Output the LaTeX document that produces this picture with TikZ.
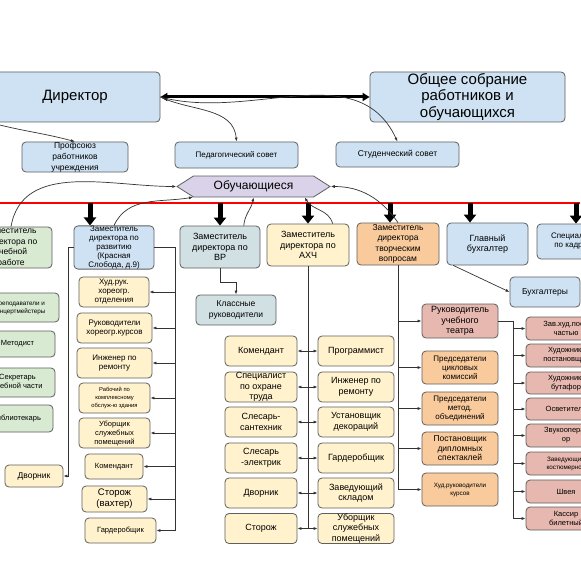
\documentclass[tikz,border=0pt]{standalone}
\usepackage{fontspec}
\setmainfont{Liberation Sans}
\usetikzlibrary{arrows.meta, shapes.symbols, calc}
\definecolor{blueA}{HTML}{CFE2F3}
\definecolor{blueB}{HTML}{D0E0E3}
\definecolor{lilac}{HTML}{D9D2E9}
\definecolor{greenA}{HTML}{D9EAD3}
\definecolor{yellowA}{HTML}{FFF2CC}
\definecolor{orangeA}{HTML}{F9CB9C}
\definecolor{pinkA}{HTML}{E6B8AF}
\definecolor{edgegray}{HTML}{5F5F5F}

\begin{document}
\begin{tikzpicture}[x=1pt, y=1pt,
    box/.style={draw=edgegray, line width=0.8pt, rounded corners=4pt, align=center, inner sep=0pt},
    sz/.style 2 args={minimum width=#1pt, minimum height=#2pt},
    tA/.style={font=\fontsize{15pt}{16.5pt}\selectfont},
    tB/.style={font=\fontsize{12pt}{14pt}\selectfont},
    tC/.style={font=\fontsize{9pt}{10.5pt}\selectfont},
    tD/.style={font=\fontsize{8.5pt}{10.5pt}\selectfont},
    tE/.style={font=\fontsize{8pt}{9pt}\selectfont},
    tF/.style={font=\fontsize{7.5pt}{9pt}\selectfont},
    tG/.style={font=\fontsize{6.3pt}{8pt}\selectfont},
    conn/.style={draw=black!80, line width=0.7pt},
    arr/.style={conn, -{Latex[length=4pt,width=3pt]}},
    dbl/.style={conn, {Latex[length=4pt,width=3pt]}-{Latex[length=4pt,width=3pt]}},
    fat/.style={line width=5pt, -{Triangle[width=12pt,length=8pt]}},
    wide/.style={line width=3pt, {Triangle[width=8pt,length=7pt]}-{Triangle[width=8pt,length=7pt]}}
  ]
\fill[white] (0,0) rectangle (580,-580);
\useasboundingbox (0,0) rectangle (580,-580);

% top level
\node[box, fill=blueA, sz={170}{50}, tA] (dir) at (75,-97) {Директор};
\node[box, fill=blueA, sz={195}{50}, tA] (meet) at (467.5,-97) {Общее собрание\\работников и\\обучающихся};
\node[box, fill=blueA, sz={106}{30}, font=\fontsize{8.5pt}{11pt}\selectfont] (prof) at (75,-157) {Профсоюз\\работников\\учреждения};
\node[box, fill=blueA, sz={123}{26}, tE] (ped) at (236.5,-155) {Педагогический совет};
\node[box, fill=blueA, sz={123}{25}, tD] (stud) at (397.5,-154.5) {Студенческий совет};
\node[draw=edgegray, line width=0.8pt, fill=lilac, signal, signal to=west and east, signal pointer angle=65,
      sz={153}{21}, inner sep=0pt, tB] (obu) at (253.5,-186.5) {Обучающиеся};

\draw[wide] (dir.east) -- (meet.west);
\draw[arr] (dir.south west) to[out=-15,in=165] (prof.north);
\draw[arr] (dir.east) to[out=-25,in=95] (ped.north);
\draw[arr] (dir.east) to[out=-15,in=115] (stud.north);

% red line
\coordinate (redL) at (0,-203);
\coordinate (redR) at (580,-203);
\draw[red, line width=1.3pt] (redL) -- (redR);

% deputies
\node[box, fill=greenA, sz={82}{41}, tD] (uch) at (11,-247.5) {Заместитель\\директора по\\учебной\\работе};
\node[box, fill=blueA, sz={80}{41}, tE] (dev) at (114,-247.5) {Заместитель\\директора по\\развитию\\(Красная\\Слобода, д.9)};
\node[box, fill=blueB, sz={80}{42}, tC] (vr) at (220,-247) {Заместитель\\директора по\\ВР};
\node[box, fill=yellowA, sz={82}{42}, tC] (ahch) at (308,-245) {Заместитель\\директора по\\АХЧ};
\node[box, fill=orangeA, sz={82}{42}, tD] (tvor) at (398,-244) {Заместитель\\директора\\творческим\\вопросам};
\node[box, fill=blueA, sz={81}{42}, tC] (buh) at (487.5,-244) {Главный\\бухгалтер};
\node[box, fill=blueA, sz={73}{35}, tE] (kadr) at (573.5,-241.5) {Специалист\\по кадрам};

\coordinate (r1) at (90,-203);
\coordinate (r2) at (220,-203);
\coordinate (r3) at (308,-203);
\coordinate (r4) at (390,-203);
\coordinate (r5) at (470,-203);
\coordinate (r6) at (576,-203);
\draw[fat] (r1) -- (r1 |- dev.north);
\draw[fat] (r2) -- (r2 |- vr.north);
\draw[fat] (r3) -- (r3 |- ahch.north);
\draw[fat] (r4) -- (r4 |- tvor.north);
\draw[fat] (r5) -- (r5 |- buh.north);
\draw[fat] (r6) -- (r6 |- kadr.north);

% links up to the students
\draw[arr] (uch.north) to[out=80,in=180] (obu.west);
\draw[arr] (dev.north) to[out=65,in=190] (obu.190);
\draw[arr] (vr.42) to[out=85,in=-100] (obu.south);
\draw[arr] (ahch.41) to[out=105,in=-60] (obu.348);
\draw[arr] (tvor.north) to[out=125,in=0] (obu.east);

% study part
\node[box, fill=greenA, sz={79}{29}, tG] (prep) at (19.5,-307.5) {Преподаватели и\\концертмейстеры};
\node[box, fill=greenA, sz={75}{26}, tF] (metod) at (17.5,-344) {Методист};
\node[box, fill=greenA, sz={75}{29}, tF] (sekr) at (17.5,-382.5) {Секретарь\\учебной части};
\node[box, fill=greenA, sz={73}{27}, tF] (bibl) at (16.5,-418.5) {Библиотекарь};
\node[box, fill=yellowA, sz={58}{22}, tD] (dvorA) at (34,-476) {Дворник};

% development
\node[box, fill=yellowA, sz={70}{30}, tE] (hud) at (114,-292) {Худ.рук.\\хореогр.\\отделения};
\node[box, fill=yellowA, sz={75}{30}, tE] (rukh) at (114.5,-328) {Руководители\\хореогр.курсов};
\node[box, fill=yellowA, sz={75}{30}, tE] (ingA) at (114.5,-363) {Инженер по\\ремонту};
\node[box, fill=yellowA, sz={71}{30}, font=\fontsize{5.8pt}{8pt}\selectfont] (rab) at (114.5,-398) {Рабочий по\\комплексному\\обслуж-ю здания};
\node[box, fill=yellowA, sz={71}{30}, tF] (ubA) at (114.5,-433) {Уборщик\\служебных\\помещений};
\node[box, fill=yellowA, sz={58}{25}, tF] (komA) at (114,-466.5) {Комендант};
\node[box, fill=yellowA, sz={65}{26}, font=\fontsize{9.5pt}{11pt}\selectfont] (storA) at (114.5,-499) {Сторож\\(вахтер)};
\node[box, fill=yellowA, sz={71}{25}, tF] (gardA) at (120.5,-530.5) {Гардеробщик};

\coordinate (devbus) at (175,-530.5);
\coordinate (devleft) at (68,-247.5);
\draw[conn] (dev.east) -| (devbus);
\foreach \n in {hud,rukh,ingA,rab,ubA,komA,storA,gardA}
  \draw[arr] (devbus |- \n.east) -- (\n.east);
\draw[arr] (dev.west) -- (devleft) |- (dvorA.east);

% educational work
\node[box, fill=blueB, sz={80}{30}, tD] (klass) at (236,-310) {Классные\\руководители};
\draw[arr] (vr.south) -- ++(0,-14) -| (klass.north);

% household part
\node[box, fill=yellowA, sz={72}{30}, tC] (komB) at (261,-351) {Комендант};
\node[box, fill=yellowA, sz={72}{30}, tC] (ohr) at (261,-387) {Специалист\\по охране\\труда};
\node[box, fill=yellowA, sz={72}{30}, tC] (sant) at (261,-422) {Слесарь-\\сантехник};
\node[box, fill=yellowA, sz={72}{30}, tC] (elek) at (261,-458) {Слесарь\\-электрик};
\node[box, fill=yellowA, sz={72}{30}, tC] (dvorB) at (261,-493) {Дворник};
\node[box, fill=yellowA, sz={72}{30}, tC] (storB) at (261,-528.5) {Сторож};
\node[box, fill=yellowA, sz={76}{30}, tC] (prog) at (356,-351) {Программист};
\node[box, fill=yellowA, sz={76}{30}, tC] (ingB) at (356,-387) {Инженер по\\ремонту};
\node[box, fill=yellowA, sz={76}{30}, tC] (ust) at (356,-422) {Установщик\\декораций};
\node[box, fill=yellowA, sz={76}{30}, tC] (gardB) at (356,-458) {Гардеробщик};
\node[box, fill=yellowA, sz={76}{30}, tC] (sklad) at (356,-493) {Заведующий\\складом};
\node[box, fill=yellowA, sz={76}{30}, tC] (ubB) at (356,-528.5) {Уборщик\\служебных\\помещений};

\coordinate (ahbus) at (308,-528.5);
\draw[conn] (ahch.south) -- (ahbus);
\foreach \n in {komB,ohr,sant,elek,dvorB,storB}
  \draw[arr] (ahbus |- \n.east) -- (\n.east);
\foreach \n in {prog,ingB,ust,gardB,sklad,ubB}
  \draw[arr] (ahbus |- \n.west) -- (\n.west);

% creative part
\node[box, fill=pinkA, sz={76}{34}, tC] (ruk) at (460,-321) {Руководитель\\учебного\\театра};
\node[box, fill=orangeA, sz={76}{33}, tE] (pcik) at (460,-367.5) {Председатели\\цикловых\\комиссий};
\node[box, fill=orangeA, sz={76}{33}, tE] (pmet) at (460,-408.5) {Председатели\\метод.\\объединений};
\node[box, fill=orangeA, sz={76}{33}, font=\fontsize{8.5pt}{9.5pt}\selectfont] (post) at (460,-448.5) {Постановщик\\дипломных\\спектаклей};
\node[box, fill=orangeA, sz={76}{33}, tG] (hkur) at (460,-489.5) {Худ.руководители\\курсов};

\coordinate (tvbus) at (398,-489.5);
\draw[conn] (tvor.south) -- (tvbus);
\foreach \n in {ruk,pcik,pmet,post,hkur}
  \draw[arr] (tvbus |- \n.west) -- (\n.west);

% theatre staff
\node[box, fill=pinkA, sz={80}{23}, tF] (pA) at (566,-328.5) {Зав.худ.пост.\\частью};
\node[box, fill=pinkA, sz={80}{23}, tF] (pB) at (566,-355.5) {Художник-\\постановщик};
\node[box, fill=pinkA, sz={80}{22}, tF] (pC) at (566,-383) {Художник-\\бутафор};
\node[box, fill=pinkA, sz={80}{22}, tF] (pD) at (566,-409) {Осветитель};
\node[box, fill=pinkA, sz={80}{23}, tF] (pE) at (566,-435.5) {Звукооперат\\ор};
\node[box, fill=pinkA, sz={80}{23}, tG] (pF) at (566,-463.5) {Заведующий\\костюмерной};
\node[box, fill=pinkA, sz={80}{23}, tF] (pG) at (566,-491.5) {Швея};
\node[box, fill=pinkA, sz={80}{23}, tF] (pH) at (566,-518.5) {Кассир\\билетный};

\coordinate (pkbus) at (513,-518.5);
\draw[conn] (ruk.east) -| (pkbus);
\foreach \n in {pA,pB,pC,pD,pE,pF,pG,pH}
  \draw[arr] (pkbus |- \n.west) -- (\n.west);

% accounting
\node[box, fill=blueA, sz={70}{30}, tD] (buhs) at (545,-292) {Бухгалтеры};
\draw[arr] (buh.212) -- (buhs.west);
\end{tikzpicture}
\end{document}
